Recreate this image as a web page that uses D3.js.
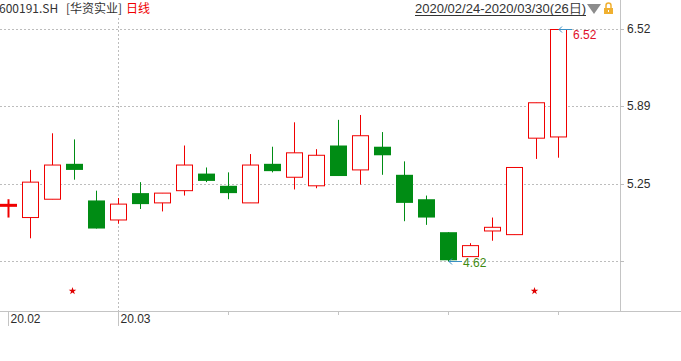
<!DOCTYPE html>
<html lang="zh">
<head>
  <meta charset="UTF-8">
  <title>600191.SH 华资实业 日线</title>
  <script src="https://cdn.jsdelivr.net/npm/d3@7/dist/d3.min.js"></script>
  <style>
    body { margin: 0; background: #fff; }
    svg { display: block; font-family: "Liberation Sans", Arial, sans-serif; }
    .axis text { fill: #2b2b2b; font-size: 12px; }
  </style>
</head>
<body>
<svg width="681" height="361"></svg>
<script>
  // daily bars, 2020/02/24 - 2020/03/30
  const dates = ["02/24","02/25","02/26","02/27","02/28",
                 "03/02","03/03","03/04","03/05","03/06",
                 "03/09","03/10","03/11","03/12","03/13",
                 "03/16","03/17","03/18","03/19","03/20",
                 "03/23","03/24","03/25","03/26","03/27",
                 "03/30"];
  const open  = [5.08,4.98,5.13,5.42,5.12, 4.96,5.18,5.10,5.20,5.34, 5.24,5.10,5.42,5.31,5.24, 5.57,5.37,5.56,5.33,5.13, 4.86,4.66,4.87,4.84,5.63, 5.64];
  const high  = [5.13,5.37,5.67,5.62,5.20, 5.14,5.27,5.18,5.57,5.39, 5.35,5.50,5.56,5.76,5.54, 5.78,5.82,5.68,5.44,5.16, 4.86,4.77,4.98,5.39,5.92, 6.52];
  const low   = [4.98,4.81,5.13,5.29,4.89, 4.93,5.05,5.03,5.16,5.27, 5.13,5.10,5.35,5.21,5.22, 5.32,5.25,5.33,4.95,4.92, 4.62,4.66,4.79,4.84,5.46, 5.47];
  const close = [5.08,5.27,5.41,5.37,4.89, 5.09,5.09,5.18,5.41,5.28, 5.18,5.41,5.36,5.51,5.49, 5.32,5.65,5.49,5.10,4.98, 4.63,4.75,4.90,5.39,5.92, 6.52];

  const priceTicks = [6.52, 5.8867, 5.2533, 4.62];
  const priceLabels = ["6.52", "5.89", "5.25", ""];
  const weekStarts = ["02/24","03/02","03/09","03/16","03/23","03/30"];
  const monthLabels = {"02/24": "20.02", "03/02": "20.03"};
  const starDays = ["02/27", "03/27"];

  const bars = dates.map((d, i) => ({date: d, o: open[i], h: high[i], l: low[i], c: close[i]}));

  const svg = d3.select("svg");
  const RED = "#f00000", GREEN = "#008c14";

  const x = d3.scalePoint().domain(dates).range([8, 558]);
  const y = d3.scaleLinear().domain([4.62, 6.52]).range([261.5, 29.5]);

  // header
  const cjk = "'Noto Sans CJK SC', sans-serif";
  svg.append("text").attr("x", -1).attr("y", 13).attr("fill", "#333")
    .style("font-family", cjk).style("font-size", "12px").text("600191.SH");
  svg.append("text").attr("x", 66).attr("y", 13).attr("fill", "#333")
    .style("font-family", cjk).style("font-size", "12px").text("[华资实业]");
  svg.append("text").attr("x", 126).attr("y", 13).attr("fill", RED)
    .style("font-family", cjk).style("font-size", "12px").text("日线");

  svg.append("text").attr("x", 415).attr("y", 13)
    .attr("textLength", 171).attr("lengthAdjust", "spacingAndGlyphs")
    .style("font-size", "13px")
    .attr("fill", "#333").text("2020/02/24-2020/03/30(26日)");
  svg.append("line").attr("x1", 415).attr("x2", 586).attr("y1", 15.5).attr("y2", 15.5)
    .attr("stroke", "#333");
  svg.append("path").attr("d", "M587,4 L601,4 L594,14 Z").attr("fill", "#8c8c8c");
  svg.append("path").attr("d", "M606,8 V5.5 A2.5,2.5 0 0 1 611,5.5 V8")
    .attr("fill", "none").attr("stroke", "#f0b030").attr("stroke-width", 1.5);
  svg.append("rect").attr("x", 604).attr("y", 8).attr("width", 9).attr("height", 6).attr("fill", "#f0b030");
  svg.append("rect").attr("x", 608).attr("y", 10).attr("width", 1).attr("height", 2).attr("fill", "#fff");

  // grid
  svg.append("g").selectAll("line").data(priceTicks).join("line")
    .attr("x1", 0).attr("x2", 620)
    .attr("y1", d => Math.floor(y(d)) + 0.5).attr("y2", d => Math.floor(y(d)) + 0.5)
    .attr("stroke", "#bdbdbd").attr("stroke-dasharray", "2,2");
  svg.append("line").attr("x1", x("03/02") + 0.5).attr("x2", x("03/02") + 0.5)
    .attr("y1", 18).attr("y2", 311)
    .attr("stroke", "#bdbdbd").attr("stroke-dasharray", "2,2");

  // axes frame
  svg.append("line").attr("x1", 620.5).attr("x2", 620.5).attr("y1", 0).attr("y2", 311)
    .attr("stroke", "#c4c4c4");
  svg.append("line").attr("x1", 0).attr("x2", 681).attr("y1", 311.5).attr("y2", 311.5)
    .attr("stroke", "#c4c4c4");

  const yAxis = svg.append("g").attr("class", "axis")
    .attr("transform", "translate(620,0)")
    .call(d3.axisRight(y).tickValues(priceTicks).tickSize(4).tickPadding(3)
      .tickFormat((d, i) => priceLabels[i]));
  yAxis.select(".domain").remove();
  yAxis.selectAll(".tick line").attr("stroke", "#bdbdbd");
  yAxis.selectAll(".tick").attr("transform", d => `translate(0,${Math.floor(y(d)) + 0.5})`);

  const xAxis = svg.append("g").attr("class", "axis")
    .attr("transform", "translate(0,311)")
    .call(d3.axisBottom(x).tickValues(weekStarts).tickSizeOuter(0).tickSizeInner(4)
      .tickFormat(d => monthLabels[d] || ""));
  xAxis.select(".domain").remove();
  xAxis.selectAll(".tick").attr("transform", d => `translate(${x(d) + 0.5},0)`);
  xAxis.selectAll(".tick line").attr("stroke", "#c4c4c4")
    .attr("y2", d => monthLabels[d] ? 15 : 4);
  xAxis.selectAll(".tick text").attr("text-anchor", "start").attr("x", 2).attr("y", 3);

  // candles
  const g = svg.append("g");
  const candle = g.selectAll("g").data(bars).join("g")
    .attr("transform", d => `translate(${x(d.date)},0)`);

  candle.append("line")
    .attr("x1", 0.5).attr("x2", 0.5)
    .attr("y1", d => y(d.h)).attr("y2", d => y(d.l))
    .attr("stroke", d => d.c >= d.o ? RED : GREEN)
    .attr("stroke-width", d => d.c === d.o ? 2 : 1);

  candle.filter(d => d.c > d.o).append("rect")
    .attr("x", -7.5).attr("width", 16)
    .attr("y", d => y(d.c)).attr("height", d => y(d.o) - y(d.c))
    .attr("fill", "#fff").attr("stroke", RED);

  candle.filter(d => d.c < d.o).append("rect")
    .attr("x", -8).attr("width", 17)
    .attr("y", d => y(d.o)).attr("height", d => y(d.c) - y(d.o))
    .attr("fill", GREEN);

  candle.filter(d => d.c === d.o).append("rect")
    .attr("x", -8).attr("width", 17)
    .attr("y", d => y(d.c) - 1.5).attr("height", 3)
    .attr("fill", RED);

  // max / min markers
  const hiBar = bars[d3.maxIndex(bars, d => d.h)];
  const loBar = bars[d3.minIndex(bars, d => d.l)];
  const ARROW = "#3a8fc4";
  function marker(bar, value, color, dy) {
    const x0 = x(bar.date) + 1, yy = Math.floor(y(value)) + 0.5;
    svg.append("path")
      .attr("d", `M${x0 + 3},${yy - 3} L${x0},${yy} L${x0 + 3},${yy + 3} M${x0},${yy} H${x0 + 13}`)
      .attr("fill", "none").attr("stroke", ARROW);
    svg.append("text").attr("x", x0 + 14).attr("y", yy + dy)
      .attr("fill", color).style("font-size", "12px")
      .text(d3.format(".2f")(value));
  }
  marker(hiBar, hiBar.h, "#e0102a", 9);
  marker(loBar, loBar.l, "#3f8a10", 5);

  // stars
  svg.append("g").selectAll("path").data(starDays).join("path")
    .attr("transform", d => `translate(${x(d) - 1.5},291)`)
    .attr("d", d3.symbol(d3.symbolStar, 18))
    .attr("fill", "#e00000");
</script>
</body>
</html>
